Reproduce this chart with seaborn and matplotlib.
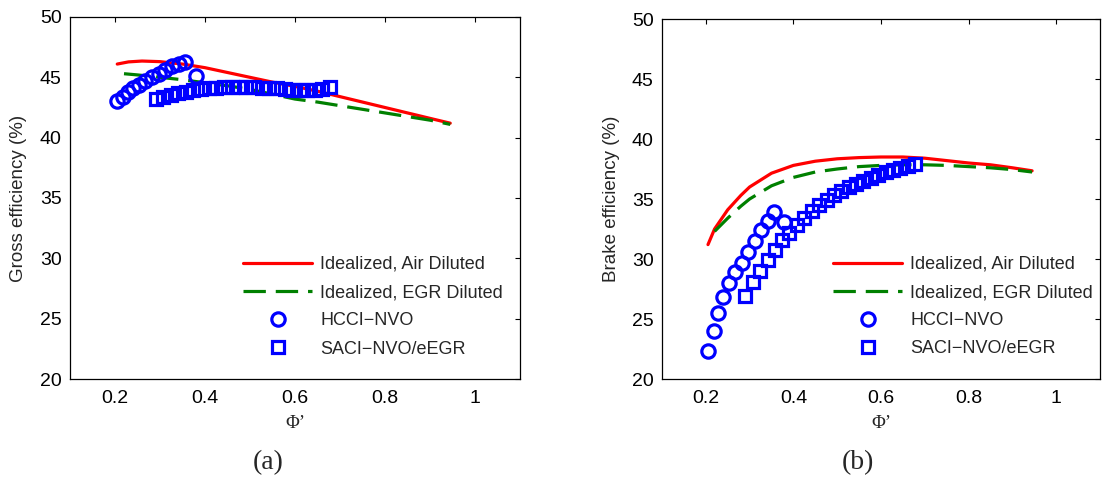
import matplotlib
matplotlib.use("Agg")
import matplotlib.pyplot as plt
import seaborn as sns

# Equivalence ratio Φ' for the measured operating points
hcci_phi = [0.205, 0.218, 0.228, 0.240, 0.254, 0.267, 0.282, 0.297, 0.312, 0.327, 0.342, 0.356, 0.379]
saci_phi = [0.290, 0.307, 0.324, 0.341, 0.357, 0.374, 0.391, 0.408, 0.425, 0.442, 0.459, 0.476,
            0.492, 0.509, 0.526, 0.543, 0.560, 0.577, 0.594, 0.611, 0.627, 0.644, 0.661, 0.678]

# (a) gross efficiency (%)
hcci_gross = [43.0, 43.4, 43.8, 44.1, 44.4, 44.7, 45.0, 45.3, 45.6, 45.9, 46.1, 46.3, 45.1]
saci_gross = [43.17, 43.34, 43.50, 43.67, 43.80, 43.94, 44.03, 44.08, 44.13, 44.17, 44.17, 44.17,
              44.17, 44.17, 44.13, 44.10, 44.08, 44.03, 43.97, 43.94, 43.94, 43.97, 44.03, 44.17]
air_phi_a = [0.205, 0.23, 0.26, 0.30, 0.35, 0.40, 0.45, 0.50, 0.55, 0.60, 0.65, 0.70, 0.75, 0.80, 0.85, 0.90, 0.945]
air_gross = [46.1, 46.28, 46.35, 46.3, 46.1, 45.8, 45.4, 45.0, 44.6, 44.25, 43.85, 43.4, 42.95, 42.5, 42.05, 41.6, 41.2]
egr_phi_a = [0.22, 0.25, 0.30, 0.35, 0.40, 0.45, 0.50, 0.55, 0.60, 0.65, 0.70, 0.75, 0.80, 0.85, 0.90, 0.945]
egr_gross = [45.3, 45.2, 45.0, 44.8, 44.55, 44.3, 44.0, 43.6, 43.2, 42.95, 42.65, 42.35, 42.05, 41.75, 41.45, 41.1]

# (b) brake efficiency (%)
hcci_brake = [22.3, 24.0, 25.5, 26.8, 28.0, 28.9, 29.7, 30.6, 31.5, 32.4, 33.2, 33.9, 33.1]
saci_brake = [26.9, 28.1, 29.0, 29.9, 30.75, 31.6, 32.2, 32.85, 33.4, 34.0, 34.5, 34.95,
              35.35, 35.7, 36.0, 36.25, 36.5, 36.75, 37.0, 37.25, 37.45, 37.6, 37.75, 37.9]
air_phi_b = [0.205, 0.22, 0.25, 0.28, 0.30, 0.35, 0.40, 0.45, 0.50, 0.55, 0.60, 0.65, 0.70, 0.75, 0.80, 0.85, 0.90, 0.945]
air_brake = [31.2, 32.5, 34.1, 35.3, 36.0, 37.15, 37.8, 38.15, 38.35, 38.45, 38.5, 38.5, 38.4, 38.2, 38.0, 37.85, 37.6, 37.35]
egr_phi_b = [0.22, 0.25, 0.28, 0.30, 0.35, 0.40, 0.45, 0.50, 0.55, 0.60, 0.65, 0.70, 0.75, 0.80, 0.85, 0.90, 0.945]
egr_brake = [32.3, 33.4, 34.4, 35.0, 36.1, 36.8, 37.25, 37.5, 37.7, 37.8, 37.85, 37.85, 37.8, 37.7, 37.6, 37.45, 37.25]

series_labels = ["Idealized, Air Diluted", "Idealized, EGR Diluted", "HCCI\u2212NVO", "SACI\u2212NVO/eEGR"]
x_ticks = [0.2, 0.4, 0.6, 0.8, 1.0]
x_tick_labels = ["0.2", "0.4", "0.6", "0.8", "1"]
y_ticks = [20, 25, 30, 35, 40, 45, 50]

sns.set_style("white")
plt.rcParams["font.family"] = ["Liberation Sans", "DejaVu Sans"]
plt.rcParams["font.size"] = 13

W, H = 1102, 493
fig = plt.figure(figsize=(W / 100, H / 100), dpi=100)

RED = "#ff0000"
GREEN = "#008000"
BLUE = "#0000ff"
SERIF = ["Liberation Serif", "DejaVu Serif"]


def panel(rect, air, egr, hcci, saci, ylabel, ylab_x, leg_xy, tag, tag_x):
    ax = fig.add_axes(rect)
    sns.lineplot(x=air[0], y=air[1], ax=ax, color=RED, lw=2.3, estimator=None,
                 sort=False, label=series_labels[0], legend=False)
    sns.lineplot(x=egr[0], y=egr[1], ax=ax, color=GREEN, lw=2.3, estimator=None,
                 sort=False, label=series_labels[1], legend=False, dashes=False)
    ax.lines[-1].set_dashes([7.0, 3.1])
    sns.lineplot(x=hcci[0], y=hcci[1], ax=ax, color=BLUE, linestyle="", marker="o",
                 markersize=9.6, markerfacecolor="none", markeredgecolor=BLUE,
                 markeredgewidth=2.3, estimator=None, sort=False,
                 label=series_labels[2], legend=False)
    sns.lineplot(x=saci[0], y=saci[1], ax=ax, color=BLUE, linestyle="", marker="s",
                 markersize=8.2, markerfacecolor="none", markeredgecolor=BLUE,
                 markeredgewidth=2.3, estimator=None, sort=False,
                 label=series_labels[3], legend=False)

    ax.set_xlim(0.1, 1.1)
    ax.set_ylim(20, 50)
    ax.set_xticks(x_ticks)
    ax.set_xticklabels(x_tick_labels)
    ax.set_yticks(y_ticks)
    ax.tick_params(direction="in", length=3.5, width=0.8, top=True, right=True,
                   labelsize=14, colors="black", pad=6)
    ax.tick_params(axis="x", pad=8)
    for s in ax.spines.values():
        s.set_visible(True)
        s.set_color("black")
        s.set_linewidth(0.9)

    ax.set_ylabel(ylabel, fontsize=13.5)
    ax.yaxis.label.set_va("center")
    ax.yaxis.set_label_coords(ylab_x, 0.5)
    ax.set_xlabel("\u03a6\u2019", fontsize=13.5, family=SERIF)
    ax.xaxis.label.set_va("center")
    bottom_px = (1 - rect[1]) * H
    ax.xaxis.set_label_coords(0.5, -(424 - bottom_px) / (rect[3] * H))

    handles = ax.get_lines()[:4]
    ax.legend(handles, series_labels, loc="upper left", bbox_to_anchor=leg_xy,
              frameon=False, fontsize=13, handlelength=3.85, handletextpad=0.45,
              labelspacing=0.62, borderpad=0, borderaxespad=0)

    fig.text(tag_x / W, 1 - 463 / H, tag, ha="center", va="center",
             family=SERIF, fontsize=20)
    return ax


left_rect = [70 / W, 1 - 379 / H, 450 / W, 362 / H]
right_rect = [662 / W, 1 - 379 / H, 438 / W, 360 / H]

panel(left_rect, (air_phi_a, air_gross), (egr_phi_a, egr_gross),
      (hcci_phi, hcci_gross), (saci_phi, saci_gross),
      "Gross efficiency (%)", (18.5 - 70) / 450, (0.384, 0.340), "(a)", 268)
panel(right_rect, (air_phi_b, air_brake), (egr_phi_b, egr_brake),
      (hcci_phi, hcci_brake), (saci_phi, saci_brake),
      "Brake efficiency (%)", (611 - 662) / 438, (0.390, 0.342), "(b)", 858)

fig.savefig("out.png", dpi=100)
